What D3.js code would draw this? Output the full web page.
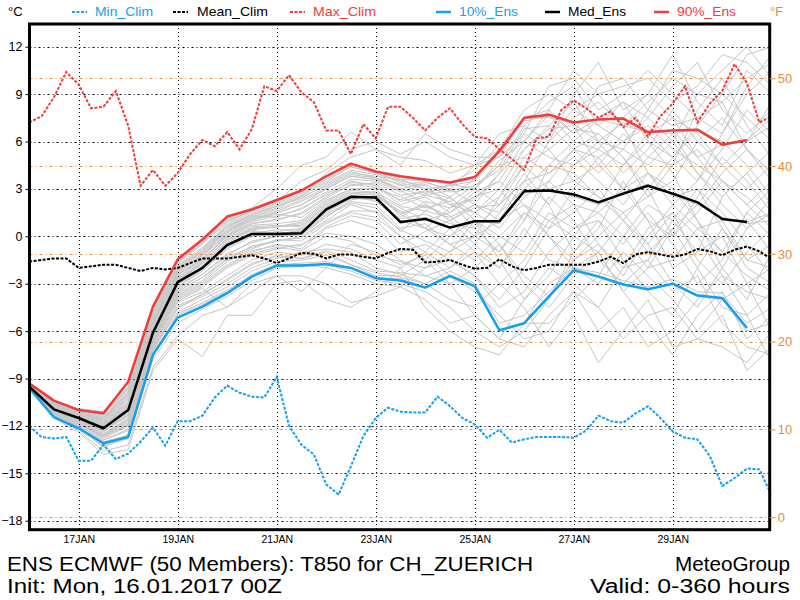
<!DOCTYPE html>
<html>
<head>
<meta charset="utf-8">
<script src="https://cdn.jsdelivr.net/npm/d3@7"></script>
<style>
body{margin:0;background:#fff;}
text{font-family:"Liberation Sans",Arial,sans-serif;}
</style>
</head>
<body>
<div id="chart"></div>
<script>
// tick labels
var dayTicks=["17JAN","19JAN","21JAN","23JAN","25JAN","27JAN","29JAN"];
var dayTickHours=[24,72,120,168,216,264,312];
var tempTicks=[12,9,6,3,0,-3,-6,-9,-12,-15,-18];
var fahrTicks=[50,40,30,20,10,0];

// climate, every 6 hours 0..360
var minClim=[-12.0,-12.7,-12.8,-12.7,-14.2,-14.2,-13.2,-14.1,-13.75,-13.0,-12.1,-13.25,-11.7,-11.7,-11.35,-10.2,-9.45,-9.9,-10.15,-10.2,-8.9,-12.0,-13.2,-13.8,-15.7,-16.35,-14.55,-12.65,-11.5,-10.85,-11.1,-11.15,-11.15,-10.15,-10.75,-11.5,-11.9,-12.75,-12.25,-13.05,-12.85,-12.7,-12.7,-12.7,-12.75,-12.3,-11.35,-11.7,-11.8,-11.2,-10.75,-11.5,-12.35,-12.75,-12.85,-13.9,-15.8,-15.3,-14.7,-14.75,-16.4];
var meanClim=[-1.6,-1.5,-1.4,-1.4,-2.0,-1.9,-1.8,-1.8,-2.0,-2.2,-2.0,-2.1,-2.0,-1.7,-1.4,-1.4,-1.4,-1.3,-1.2,-1.4,-1.7,-1.4,-1.05,-1.1,-1.4,-1.15,-1.15,-1.3,-1.4,-1.05,-0.8,-0.85,-1.65,-1.6,-1.5,-1.8,-2.05,-2.0,-1.45,-1.9,-2.15,-2.0,-1.8,-1.8,-1.8,-1.8,-1.6,-1.3,-1.7,-1.15,-1.0,-1.15,-1.3,-1.15,-0.8,-0.95,-1.2,-0.85,-0.65,-0.95,-1.45];
var maxClim=[7.2,7.6,8.8,10.4,9.6,8.1,8.2,9.2,7.0,3.2,4.2,3.2,4.0,5.2,6.1,5.7,6.6,5.5,6.8,9.5,9.2,10.2,9.1,8.5,6.7,6.7,5.2,7.1,6.2,8.2,8.2,7.5,6.7,7.5,8.1,7.1,6.3,6.2,5.5,4.9,4.2,6.2,6.3,8.0,8.6,8.1,7.5,7.9,6.9,7.5,6.3,7.6,8.4,9.5,7.2,8.4,9.2,10.9,9.7,7.2,7.6];

// ensemble percentiles, every 12 hours 0..348
var ens10=[-9.6,-11.45,-12.15,-13.1,-12.7,-7.5,-5.15,-4.45,-3.6,-2.55,-1.85,-1.85,-1.75,-2.0,-2.65,-2.8,-3.25,-2.5,-3.15,-5.95,-5.5,-3.8,-2.15,-2.55,-3.05,-3.35,-3.0,-3.75,-3.9,-5.8];
var ensMed=[-9.5,-10.95,-11.5,-12.15,-11.0,-6.1,-2.9,-2.0,-0.55,0.15,0.15,0.2,1.7,2.5,2.45,0.9,1.1,0.55,0.95,0.95,2.85,2.9,2.65,2.15,2.7,3.2,2.7,2.15,1.1,0.9];
var ens90=[-9.3,-10.4,-11.0,-11.2,-9.2,-4.45,-1.45,-0.2,1.25,1.7,2.3,2.9,3.8,4.6,4.1,3.8,3.6,3.4,3.75,5.4,7.5,7.7,7.2,7.4,7.45,6.6,6.7,6.75,5.8,6.1];

// members, every 12 hours 0..360
var members=[
[-9.3,-10.4,-11.0,-11.3,-9.5,-4.6,-1.6,-0.4,1.0,1.6,2.2,2.8,3.6,4.4,4.0,3.5,3.2,2.0,1.5,3.0,5.5,6.8,7.0,4.5,3.0,5.0,6.5,4.0,2.0,0.5,1.5],
[-9.5,-10.9,-11.5,-12.1,-11.0,-6.0,-3.0,-1.9,-0.5,0.3,0.2,0.3,1.6,2.5,2.4,0.8,1.2,0.6,1.0,0.8,2.8,3.0,2.5,2.0,2.8,3.3,2.6,2.0,1.2,0.8,1.0],
[-9.4,-10.6,-11.2,-11.5,-10.0,-5.2,-2.0,-1.0,0.5,1.2,1.8,2.5,3.2,4.0,3.8,3.6,3.0,3.2,3.5,5.2,7.4,7.8,6.5,7.5,8.5,6.0,5.0,7.0,9.0,7.5,6.0],
[-9.6,-11.3,-12.0,-12.9,-12.3,-7.2,-4.8,-4.0,-3.2,-2.2,-1.6,-1.5,-1.2,-1.8,-2.3,-2.6,-3.0,-2.2,-3.0,-5.5,-5.0,-3.5,-2.0,-2.3,-2.8,-3.2,-2.7,-3.5,-3.6,-5.5,-4.5],
[-9.5,-11.0,-11.7,-12.5,-11.5,-6.5,-3.5,-2.6,-1.5,-0.6,-0.3,0.0,1.0,2.0,1.5,0.0,-1.0,-2.0,-0.5,1.5,4.0,2.0,-1.0,0.5,3.5,1.0,-2.0,-1.0,2.5,4.0,2.0],
[-9.4,-10.7,-11.3,-11.8,-10.5,-5.5,-2.4,-1.5,0.0,0.8,1.0,1.5,2.5,3.5,3.2,2.0,2.5,1.5,2.5,3.5,6.0,5.0,4.5,6.0,4.0,5.5,8.0,6.0,4.5,3.0,4.5],
[-9.6,-11.5,-12.2,-13.3,-12.8,-7.8,-5.5,-4.6,-3.8,-2.8,-2.0,-1.9,-1.8,-2.2,-2.8,-3.0,-3.5,-4.5,-6.0,-7.0,-6.0,-4.0,-1.0,1.0,-1.5,-3.5,-5.0,-2.0,0.5,-2.0,-3.0],
[-9.5,-10.8,-11.4,-11.9,-10.8,-6.3,-2.7,-1.8,-0.3,0.5,0.6,0.8,2.0,2.8,2.7,1.5,2.0,1.0,1.8,2.0,3.5,4.0,5.0,3.5,2.0,4.0,3.0,1.0,-1.0,1.5,3.0],
[-9.4,-10.5,-11.1,-11.4,-9.8,-5.0,-1.9,-0.8,0.7,1.4,2.0,2.6,3.4,4.2,3.9,3.2,3.5,2.8,3.0,4.5,7.0,8.5,9.5,7.0,6.0,7.5,9.5,11.0,8.0,6.5,8.0],
[-9.5,-11.2,-11.9,-12.8,-12.0,-7.0,-4.2,-3.5,-2.5,-1.5,-1.0,-1.2,-0.5,-0.8,-1.5,-2.0,-1.0,0.5,-1.0,-3.0,-1.5,1.0,2.0,-0.5,-2.0,0.5,1.5,-1.5,-3.0,-1.0,0.5],
[-9.5,-10.9,-11.6,-12.2,-11.2,-6.2,-3.2,-2.2,-0.8,0.0,0.3,0.5,1.8,2.6,2.2,1.0,0.5,0.0,1.5,0.5,2.5,3.5,2.0,1.5,3.0,4.0,2.5,3.0,0.5,-1.5,-0.5],
[-9.4,-10.6,-11.3,-11.7,-10.3,-5.6,-2.5,-1.3,0.2,1.0,1.5,2.0,2.8,3.6,3.5,2.8,3.3,2.5,3.6,5.4,7.5,7.5,7.2,7.4,7.0,6.6,6.5,6.8,5.8,6.0,7.0],
[-9.6,-11.4,-12.3,-13.6,-13.2,-8.3,-6.3,-5.0,-4.5,-3.5,-2.5,-2.5,-3.0,-4.2,-3.8,-3.2,-2.0,-1.0,0.0,-1.0,1.5,0.0,-2.0,-3.0,-1.0,-2.5,-4.0,-6.0,-4.0,-3.0,-2.0],
[-9.5,-11.1,-11.8,-12.6,-11.8,-6.8,-3.8,-3.0,-1.8,-1.0,-0.5,-0.8,0.5,1.0,0.5,-1.0,-0.5,-1.5,-2.5,-4.0,-2.0,0.5,3.0,5.0,3.0,1.0,0.0,2.5,5.0,3.5,1.5],
[-9.4,-10.7,-11.2,-11.6,-10.1,-5.3,-2.2,-1.2,0.3,1.0,1.4,1.2,2.3,3.0,3.0,2.5,1.8,2.2,0.5,-1.0,1.0,4.5,6.0,5.5,7.5,9.0,7.5,5.0,3.0,1.0,-1.0],
[-9.5,-11.0,-11.6,-12.4,-11.3,-6.4,-3.3,-2.4,-1.2,-0.3,0.0,0.2,1.4,2.2,2.0,0.5,0.8,-0.5,0.0,2.5,4.5,3.0,3.5,2.5,1.0,-1.0,0.5,2.0,4.0,5.5,4.0],
[-9.3,-10.4,-10.9,-11.1,-9.2,-4.4,-1.5,-0.2,1.2,1.8,3.0,4.5,5.0,6.6,5.5,5.0,4.8,4.0,4.5,5.5,8.0,9.0,8.0,9.0,9.5,10.0,8.5,9.5,11.5,11.0,9.5],
[-9.6,-11.3,-12.1,-13.0,-12.6,-7.6,-5.0,-4.3,-3.5,-2.4,-1.8,-1.7,-1.6,-2.0,-2.6,-2.7,-3.2,-2.6,-3.2,-6.0,-5.5,-5.5,-4.0,-2.5,-3.0,-3.4,-3.0,-3.8,-4.0,-6.0,-5.5],
[-9.5,-10.8,-11.4,-12.0,-10.9,-5.9,-2.8,-1.6,-0.2,0.4,0.0,0.1,1.2,2.3,2.6,1.8,1.0,1.5,2.8,3.5,2.0,1.0,0.0,2.0,4.5,6.0,4.0,1.0,-2.0,-4.0,-1.0],
[-9.4,-10.5,-11.1,-11.5,-9.9,-4.9,-1.8,-0.7,0.8,1.5,2.1,2.7,3.5,4.4,4.0,3.4,3.0,2.0,2.3,4.0,6.5,5.5,6.8,6.5,5.0,3.0,5.0,6.7,6.0,4.5,2.5],
[-9.5,-11.1,-11.8,-12.7,-11.9,-6.9,-4.0,-3.2,-2.0,-1.2,-0.8,-0.5,0.2,0.0,-0.5,-1.5,-2.5,-2.0,-1.0,-2.0,0.5,-1.5,-2.0,-2.5,0.0,2.0,1.0,-1.0,0.0,-3.0,-6.0],
[-9.5,-10.9,-11.5,-12.1,-11.1,-6.1,-3.0,-2.0,-0.6,0.2,0.2,0.3,1.7,2.5,2.4,0.9,1.1,0.5,1.0,1.0,2.9,2.9,2.6,2.2,2.7,3.2,2.7,2.2,1.1,0.9,1.5],
[-9.4,-10.6,-11.2,-11.6,-10.2,-5.4,-2.3,-1.1,0.4,1.1,1.6,2.2,3.0,3.8,3.6,3.0,3.4,3.0,2.0,1.0,3.5,6.0,7.5,8.5,7.0,4.0,2.0,3.5,6.5,9.5,11.5],
[-9.6,-11.2,-12.0,-13.4,-12.5,-7.3,-4.5,-3.8,-3.0,-2.0,-1.4,-1.0,-0.8,-1.0,-2.0,-2.4,-3.0,-4.0,-4.5,-3.0,-4.5,-7.0,-5.0,-8.0,-6.0,-4.0,-7.0,-6.5,-5.0,-8.5,-7.0],
[-9.5,-10.8,-11.4,-11.9,-10.7,-5.8,-2.6,-1.4,0.0,0.7,0.8,1.0,2.2,3.0,3.0,1.2,2.2,1.8,3.0,2.0,4.5,5.5,3.5,4.5,6.5,5.0,4.5,8.0,10.0,7.0,5.0],
[-9.4,-10.7,-11.3,-11.8,-10.4,-5.7,-2.1,-0.9,0.6,1.3,1.2,1.8,2.6,3.2,3.4,2.6,2.8,3.0,4.5,6.5,7.0,6.0,9.0,11.0,8.0,9.0,11.5,8.5,7.0,10.5,9.0],
[-9.5,-11.0,-11.7,-12.3,-11.4,-6.6,-3.6,-2.8,-1.4,-0.8,-0.2,-0.3,0.8,1.5,1.2,0.0,-1.5,-3.0,-5.0,-6.5,-7.0,-5.0,-3.5,-6.0,-4.5,-7.0,-6.0,-4.0,-2.5,-5.0,-8.0],
[-9.5,-11.2,-11.9,-12.6,-12.0,-7.1,-4.6,-3.6,-2.8,-1.8,-1.2,-1.4,-1.0,-1.8,-2.5,-2.5,-1.5,0.0,1.0,-0.5,-2.5,-3.8,-1.5,0.0,1.5,-0.5,-3.0,-4.5,-2.0,0.5,2.5],
[-9.4,-10.5,-11.0,-11.3,-9.7,-4.8,-1.7,-0.5,0.9,1.6,2.3,2.9,3.8,4.6,4.1,3.7,3.6,3.3,3.0,4.8,6.0,7.7,6.0,7.4,7.5,6.6,6.7,5.0,5.8,6.1,7.5],
[-9.6,-11.5,-12.4,-13.8,-13.5,-8.5,-6.5,-7.6,-5.0,-5.0,-3.0,-2.8,-4.0,-4.5,-3.5,-2.0,-4.5,-6.0,-7.0,-7.5,-5.5,-3.0,-2.0,-1.0,-3.5,-5.5,-7.5,-5.0,-3.5,-6.5,-5.0],
[-9.4,-10.6,-11.1,-11.4,-9.9,-5.1,-2.0,-0.9,0.6,1.3,1.9,2.4,3.3,4.1,3.7,3.0,2.6,2.9,3.2,4.2,6.8,7.0,5.5,5.0,6.0,7.0,5.5,4.5,3.5,2.0,3.5],
[-9.5,-10.9,-11.5,-12.0,-10.9,-6.0,-2.9,-1.7,-0.4,0.4,0.6,0.9,2.1,2.9,2.8,1.9,1.6,1.2,2.0,1.5,3.0,4.5,4.0,2.5,1.5,2.5,4.5,5.5,3.5,2.0,0.5],
[-9.5,-11.1,-11.8,-12.6,-11.7,-6.7,-3.7,-2.9,-1.6,-0.9,-0.6,-0.6,0.6,1.3,1.0,-0.5,0.3,1.0,-0.5,-2.0,0.0,2.5,1.0,-1.5,-3.0,-1.5,1.0,3.0,1.5,-0.5,-2.5],
[-9.4,-10.7,-11.3,-11.8,-10.6,-5.6,-2.4,-1.2,0.1,0.9,1.3,1.7,2.7,3.4,3.3,2.2,2.6,2.2,3.2,4.5,5.0,6.5,8.0,7.0,8.5,7.5,6.0,9.0,8.5,5.5,4.0],
[-9.5,-10.8,-11.4,-12.0,-10.8,-6.2,-2.8,-1.7,-0.1,0.6,0.7,0.6,1.9,2.7,2.8,1.4,0.5,-0.5,-1.5,0.0,1.5,0.5,1.5,3.0,1.0,-0.5,1.5,0.0,-2.5,-3.5,-4.0],
[-9.4,-10.5,-11.0,-11.3,-9.6,-4.7,-1.6,-0.3,1.1,1.7,2.2,3.5,4.2,5.5,6.0,5.2,6.0,5.0,4.5,5.0,7.5,8.0,10.5,9.0,7.0,8.5,10.0,9.0,10.5,12.0,10.0],
[-9.6,-11.3,-12.0,-12.9,-12.2,-7.1,-4.4,-3.7,-2.7,-1.7,-1.3,-1.4,-0.9,-1.5,-2.2,-2.3,-2.5,-3.0,-2.0,-0.5,-3.0,-4.5,-2.5,-1.0,-3.5,-2.0,0.5,-2.0,-4.5,-5.0,-3.5],
[-9.5,-11.0,-11.6,-12.3,-11.2,-6.3,-3.2,-2.1,-0.7,0.1,0.1,0.4,1.5,2.4,2.3,1.1,1.4,0.8,0.5,2.0,3.5,2.0,4.5,5.5,4.5,6.5,5.0,3.5,5.5,8.0,6.5],
[-9.4,-10.6,-11.2,-11.6,-10.1,-5.3,-2.2,-1.0,0.4,1.2,1.7,2.3,3.1,3.9,3.7,3.3,2.7,3.3,4.2,5.8,6.0,8.0,6.5,9.5,10.0,8.0,10.5,10.0,9.0,11.5,12.0],
[-9.5,-11.1,-11.7,-12.5,-11.6,-6.6,-3.5,-2.6,-1.3,-0.7,-0.3,-0.1,0.9,1.6,1.6,0.4,-0.3,-1.0,1.0,0.0,-1.0,1.5,0.5,1.0,-0.5,1.5,-0.5,-3.0,-1.5,1.5,0.0],
[-9.4,-10.8,-11.3,-11.8,-10.6,-5.9,-2.6,-1.5,0.1,0.8,1.1,1.4,2.4,3.3,3.1,2.3,2.9,2.4,1.5,2.5,5.0,4.0,5.5,4.0,5.5,4.5,6.0,4.0,2.5,4.0,5.5],
[-9.5,-10.9,-11.5,-12.2,-11.0,-6.1,-3.1,-2.0,-0.6,0.2,0.4,0.4,1.6,2.4,2.5,1.6,0.5,1.8,2.5,3.0,1.0,3.5,5.5,6.5,5.0,2.5,3.5,6.0,7.5,5.5,3.5],
[-9.6,-11.4,-12.2,-13.2,-12.7,-7.5,-4.9,-4.2,-3.4,-2.5,-1.9,-1.8,-2.0,-2.4,-3.0,-3.2,-4.0,-5.5,-5.0,-6.5,-4.0,-2.0,-3.0,-4.5,-6.5,-5.0,-4.5,-6.5,-7.0,-8.0,-6.0],
[-9.4,-10.5,-11.0,-11.3,-9.6,-4.5,-1.7,-0.4,1.0,1.6,2.2,2.9,3.7,4.5,4.1,3.6,3.5,3.4,3.6,5.3,7.3,7.6,7.1,6.0,7.2,6.5,7.5,6.5,4.5,6.0,8.5],
[-9.5,-11.0,-11.6,-12.3,-11.3,-6.4,-3.4,-2.4,-1.1,-0.4,0.0,0.1,1.3,2.1,1.8,0.3,1.6,2.5,1.0,-1.5,-4.0,-2.5,0.0,-1.0,1.0,3.0,0.0,1.5,3.5,2.5,1.0],
[-9.4,-10.7,-11.2,-11.7,-10.3,-5.4,-2.3,-1.1,0.3,1.1,1.5,2.0,3.0,3.8,3.6,2.9,2.1,1.0,2.0,4.0,5.5,7.0,8.5,6.0,5.5,8.0,7.0,7.5,6.5,9.0,10.5],
[-9.5,-11.2,-11.9,-12.7,-11.9,-6.9,-4.1,-3.3,-4.5,-3.0,-2.5,-3.5,-2.0,-0.5,-1.0,-1.8,-1.2,-2.5,-3.5,-5.0,-6.5,-6.0,-3.5,-4.5,-2.0,-1.5,-3.5,-2.5,-5.5,-7.0,-7.5],
[-9.4,-10.6,-11.2,-11.5,-10.0,-5.0,-1.9,-0.8,0.6,1.4,1.9,2.5,4.0,5.0,5.5,4.5,6.5,5.5,5.0,5.0,6.5,9.5,10.0,8.0,9.0,10.5,9.0,7.5,8.5,10.0,11.0],
[-9.5,-10.8,-11.4,-11.9,-10.7,-5.8,-2.7,-1.6,-0.2,0.5,0.6,0.7,1.9,2.7,2.6,1.4,1.9,1.3,0.0,1.0,2.0,0.0,-1.5,-0.5,-2.5,0.0,2.0,0.5,-1.0,-2.5,-3.5],
[-9.5,-11.1,-11.8,-12.6,-11.6,-6.7,-3.9,-3.1,-1.9,-1.1,-0.7,-0.9,0.0,-0.3,-1.2,-1.6,-2.0,-1.5,-2.5,-4.5,-3.5,-1.0,0.5,1.5,0.0,-2.0,-1.5,0.5,1.0,-1.5,-2.0]
];

var legendNames=["Min_Clim","Mean_Clim","Max_Clim","10%_Ens","Med_Ens","90%_Ens"];

var blue="rgb(20,160,240)";
var red="rgb(240,60,60)";
var orange="rgb(232,140,60)";
var grey="rgb(198,198,198)";

var plotL=29.5, plotR=769.7, plotT=24, plotB=529.7;

var svg=d3.select("#chart").append("svg")
	.attr("width",800)
	.attr("height",600)
	.style("background","#fff");

var x=d3.scaleLinear().domain([0,360]).range([29.2,771.7]);
var y=d3.scaleLinear().domain([-18,12]).range([520.7,46.7]);
var yF=d3.scaleLinear().domain([-18*9/5+32,12*9/5+32]).range([520.7,46.7]);

svg.append("clipPath").attr("id","plotclip")
	.append("rect").attr("x",plotL).attr("y",plotT).attr("width",plotR-plotL).attr("height",plotB-plotT);

var plot=svg.append("g").attr("clip-path","url(#plotclip)");

var line12=d3.line().x(function(d,i){return x(i*12);}).y(function(d){return y(d);});
var line6=d3.line().x(function(d,i){return x(i*6);}).y(function(d){return y(d);});

// members
plot.append("g").selectAll("path").data(members).enter().append("path")
	.attr("d",line12)
	.attr("fill","none")
	.attr("stroke",grey)
	.attr("stroke-width",1);

// grid
plot.append("g").selectAll("line").data(tempTicks).enter().append("line")
	.attr("x1",plotL).attr("x2",plotR)
	.attr("y1",function(d){return Math.round(y(d))+0.5;})
	.attr("y2",function(d){return Math.round(y(d))+0.5;})
	.attr("stroke","#000")
	.attr("stroke-width",1)
	.attr("stroke-dasharray","2,3,1,3");

plot.append("g").selectAll("line").data(dayTickHours).enter().append("line")
	.attr("x1",function(d){return Math.round(x(d))+0.5;})
	.attr("x2",function(d){return Math.round(x(d))+0.5;})
	.attr("y1",plotT).attr("y2",plotB)
	.attr("stroke","#000")
	.attr("stroke-width",1)
	.attr("stroke-dasharray","1,3");

plot.append("g").selectAll("line").data(fahrTicks).enter().append("line")
	.attr("x1",plotL).attr("x2",plotR)
	.attr("y1",function(d){return Math.round(yF(d))+0.5;})
	.attr("y2",function(d){return Math.round(yF(d))+0.5;})
	.attr("stroke",orange)
	.attr("stroke-width",1)
	.attr("stroke-dasharray","3,3,1,3");

// climate
var clim=[[minClim,blue],[meanClim,"#000"],[maxClim,red]];
plot.append("g").selectAll("path").data(clim).enter().append("path")
	.attr("d",function(d){return line6(d[0]);})
	.attr("fill","none")
	.attr("stroke",function(d){return d[1];})
	.attr("stroke-width",2)
	.attr("stroke-dasharray","3,1.5");

// ensemble percentiles
var ens=[[ens10,blue],[ensMed,"#000"],[ens90,red]];
plot.append("g").selectAll("path").data(ens).enter().append("path")
	.attr("d",function(d){return line12(d[0]);})
	.attr("fill","none")
	.attr("stroke",function(d){return d[1];})
	.attr("stroke-width",2.5)
	.attr("stroke-linejoin","round");

// frame
svg.append("rect")
	.attr("x",plotL).attr("y",plotT)
	.attr("width",plotR-plotL).attr("height",plotB-plotT)
	.attr("fill","none")
	.attr("stroke","#000")
	.attr("stroke-width",3);

// left axis
var yAxis=svg.append("g")
	.attr("transform","translate("+plotL+",0)")
	.call(d3.axisLeft(y).tickValues(tempTicks).tickSize(4).tickPadding(3));
yAxis.select(".domain").remove();
yAxis.selectAll("text").attr("font-size",12.5).attr("fill","#000").style("font-family","'Liberation Sans',Arial,sans-serif");

// right axis
var fAxis=svg.append("g")
	.attr("transform","translate("+plotR+",0)")
	.call(d3.axisRight(yF).tickValues(fahrTicks).tickSize(6).tickPadding(2));
fAxis.select(".domain").remove();
fAxis.selectAll("line").attr("stroke",orange);
fAxis.selectAll("text").attr("font-size",13).attr("fill",orange).style("font-family","'Liberation Sans',Arial,sans-serif");

// bottom axis
var xAxis=svg.append("g")
	.attr("transform","translate(0,"+(plotB+2)+")")
	.call(d3.axisBottom(x).tickValues(dayTickHours).tickSize(0).tickPadding(4)
		.tickFormat(function(d,i){return dayTicks[i];}));
xAxis.select(".domain").remove();
xAxis.selectAll("text").attr("font-size",10.5).attr("fill","#000").style("font-family","'Liberation Sans',Arial,sans-serif");

// legend
var legLineX=[72,173,290,436,545,654];
var legTextX=[95,197,313,459,568,677];
var legTextW=[58,71,63,59,58,59];
var legColor=[blue,"#000",red,blue,"#000",red];
var leg=svg.append("g");
legendNames.forEach(function(name,i){
	leg.append("line")
		.attr("x1",legLineX[i]).attr("x2",legLineX[i]+15)
		.attr("y1",12).attr("y2",12)
		.attr("stroke",legColor[i])
		.attr("stroke-width",i<3?2:2.5)
		.attr("stroke-dasharray",i<3?"3,1.5":null);
	leg.append("text")
		.attr("x",legTextX[i]).attr("y",16)
		.attr("font-size",13)
		.attr("textLength",legTextW[i])
		.attr("lengthAdjust","spacingAndGlyphs")
		.attr("fill",legColor[i])
		.text(name);
});
leg.append("text").attr("x",8).attr("y",16).attr("font-size",13).attr("fill","#000").text("°C");
leg.append("text").attr("x",770).attr("y",16).attr("font-size",13).attr("fill",orange).text("°F");

// titles
function title(t,xx,yy,w,anchor){
	svg.append("text")
		.attr("x",xx).attr("y",yy)
		.attr("font-size",20)
		.attr("text-anchor",anchor)
		.attr("textLength",w)
		.attr("lengthAdjust","spacingAndGlyphs")
		.attr("fill","#000")
		.text(t);
}
title("ENS ECMWF (50 Members): T850 for CH_ZUERICH",7,571,526,"start");
title("Init: Mon, 16.01.2017 00Z",7,593,275,"start");
title("MeteoGroup",790,571,115,"end");
title("Valid: 0-360 hours",790,593,200,"end");
</script>
</body>
</html>
